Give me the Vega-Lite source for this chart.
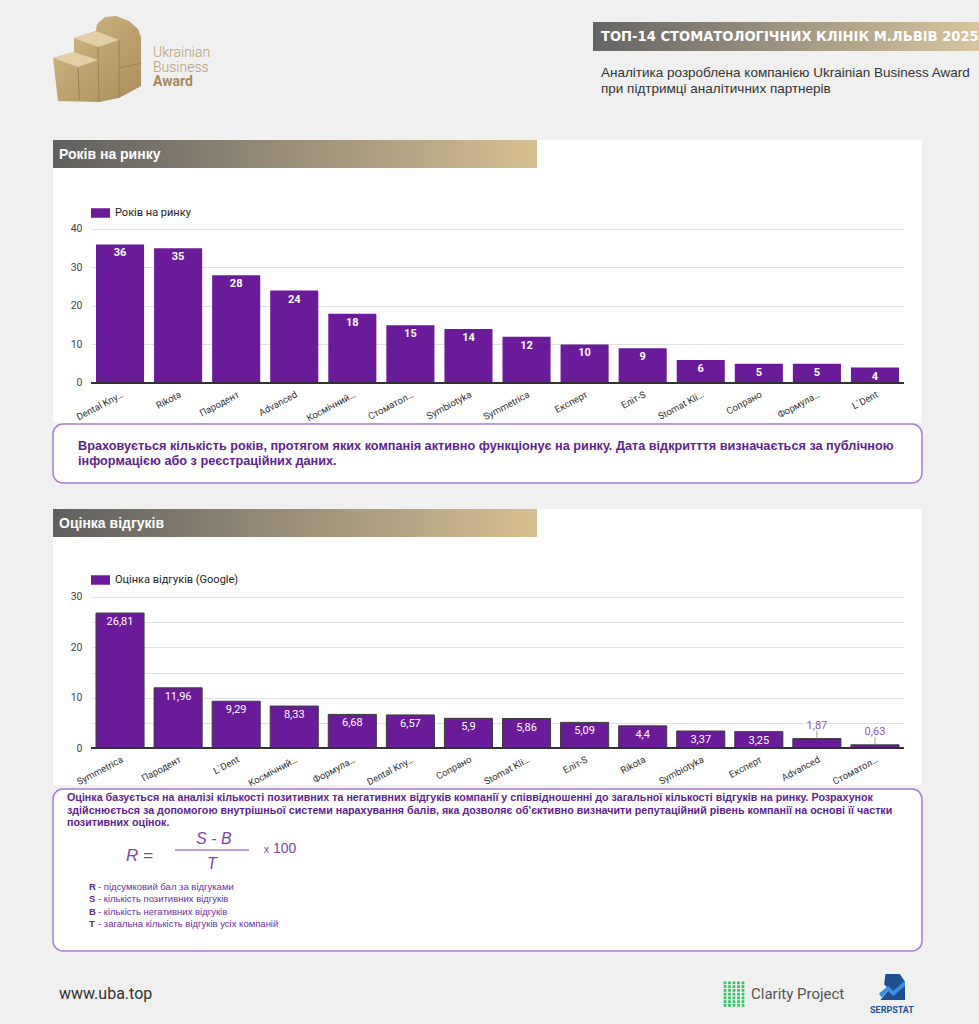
{
"$schema": "https://vega.github.io/schema/vega-lite/v6.json",
"background": "#f0f0f0",
"padding": {"left": 52, "top": 0, "right": 0, "bottom": 0},
"bounds": "full",
"spacing": 0,
"resolve": {"scale": {"color": "independent"}, "legend": {"color": "independent"}},
"config": {
  "view": {"stroke": null, "fill": "#f0f0f0"},
  "concat": {"spacing": 0},
  "font": "Roboto",
  "locale": {"number": {"decimal": ",", "thousands": " ", "grouping": [3], "currency": ["", ""]}}
},
"datasets": {
  "years": [
    {"clinic": "Dental Kny…", "years": 36},
    {"clinic": "Rikota", "years": 35},
    {"clinic": "Пародент", "years": 28},
    {"clinic": "Advanced", "years": 24},
    {"clinic": "Космічний…", "years": 18},
    {"clinic": "Стоматол…", "years": 15},
    {"clinic": "Symbiotyka", "years": 14},
    {"clinic": "Symmetrica", "years": 12},
    {"clinic": "Експерт", "years": 10},
    {"clinic": "Еліт-S", "years": 9},
    {"clinic": "Stomat Kli…", "years": 6},
    {"clinic": "Сопрано", "years": 5},
    {"clinic": "Формула…", "years": 5},
    {"clinic": "L`Dent", "years": 4}
  ],
  "reviews": [
    {"clinic": "Symmetrica", "score": 26.81},
    {"clinic": "Пародент", "score": 11.96},
    {"clinic": "L`Dent", "score": 9.29},
    {"clinic": "Космічний…", "score": 8.33},
    {"clinic": "Формула…", "score": 6.68},
    {"clinic": "Dental Kny…", "score": 6.57},
    {"clinic": "Сопрано", "score": 5.9},
    {"clinic": "Stomat Kli…", "score": 5.86},
    {"clinic": "Еліт-S", "score": 5.09},
    {"clinic": "Rikota", "score": 4.4},
    {"clinic": "Symbiotyka", "score": 3.37},
    {"clinic": "Експерт", "score": 3.25},
    {"clinic": "Advanced", "score": 1.87},
    {"clinic": "Стоматол…", "score": 0.63}
  ]
},
"vconcat": [
  {
    "hconcat": [
      {
        "width": 88, "height": 140,
        "data": {"values": [{"logo": "Ukrainian Business Award"}]},
        "layer": [
          {"mark": {"type": "point", "filled": true, "opacity": 1, "strokeWidth": 0, "size": 7744,
            "shape": "M-0.886,0.955L-1,-0.023L-0.523,-0.159L-0.523,-0.477L-0.023,-0.636L0,-0.795L0.182,-0.955L0.432,-0.977L0.727,-0.864L0.932,-0.682L1,-0.5L1,0.614L0.5,0.886L0.045,0.977Z",
            "fill": {"gradient": "linear", "x1": 0, "y1": 0, "x2": 1, "y2": 1, "stops": [{"offset": 0, "color": "#d4bb88"}, {"offset": 1, "color": "#a98c5a"}]}},
           "encoding": {
             "x": {"datum": 44, "type": "quantitative", "scale": {"domain": [0, 88], "nice": false}, "axis": null},
             "y": {"datum": 59, "type": "quantitative", "scale": {"domain": [0, 140], "nice": false, "reverse": true}, "axis": null}}},
          {"mark": {"type": "point", "filled": true, "opacity": 1, "strokeWidth": 0, "size": 7744, "color": "#e2cfa6",
            "shape": "M-1,-0.023L-0.523,-0.159L0.023,0.023L-0.432,0.182ZM-0.523,-0.477L-0.023,-0.636L0.5,-0.432L0.023,-0.273Z"},
           "encoding": {
             "x": {"datum": 44, "type": "quantitative"},
             "y": {"datum": 59, "type": "quantitative"}}},
          {"mark": {"type": "point", "filled": false, "opacity": 1, "strokeWidth": 1, "size": 7744, "color": "#9c8050",
            "shape": "M-0.432,0.182L-0.4,0.93M0.023,-0.273L0.045,0.96M0.5,-0.432L0.5,0.88M0.5,0.2L1,0.1"},
           "encoding": {
             "x": {"datum": 44, "type": "quantitative"},
             "y": {"datum": 59, "type": "quantitative"}}}
        ]
      },
      {
        "width": 450, "height": 140,
        "layer": [
          {"data": {"values": [{"t": "Ukrainian\nBusiness"}]},
           "mark": {"type": "text", "align": "left", "baseline": "top", "lineBreak": "\n", "lineHeight": 15, "font": "Roboto", "fontWeight": 300, "fontSize": 14, "color": "#b39c70"},
           "encoding": {
             "x": {"datum": 10, "type": "quantitative", "scale": {"domain": [0, 450], "nice": false}, "axis": null},
             "y": {"datum": 45.5, "type": "quantitative", "scale": {"domain": [0, 140], "nice": false, "reverse": true}, "axis": null},
             "text": {"field": "t"}}},
          {"data": {"values": [{"t": "Award"}]},
           "mark": {"type": "text", "align": "left", "baseline": "top", "font": "Roboto", "fontWeight": "bold", "fontSize": 14, "color": "#a4885a"},
           "encoding": {
             "x": {"datum": 10, "type": "quantitative"},
             "y": {"datum": 75, "type": "quantitative"},
             "text": {"field": "t"}}}
        ]
      },
      {
        "vconcat": [
          {"width": 389, "height": 22, "data": {"values": []}, "mark": "point"},
          {"width": 389, "height": 29,
           "view": {"fill": {"gradient": "linear", "x1": 0, "y1": 0, "x2": 1, "y2": 0, "stops": [{"offset": 0, "color": "#646464"}, {"offset": 1, "color": "#d9c69e"}]}},
           "data": {"values": [{"t": "ТОП-14 СТОМАТОЛОГІЧНИХ КЛІНІК М.ЛЬВІВ 2025"}]},
           "mark": {"type": "text", "align": "left", "baseline": "middle", "font": "Liberation Sans Narrow, DejaVu Sans Condensed, Roboto", "fontWeight": "bold", "fontSize": 14.6, "color": "#ffffff"},
           "encoding": {
             "x": {"datum": 8, "type": "quantitative", "scale": {"domain": [0, 389], "nice": false}, "axis": null},
             "y": {"datum": 15, "type": "quantitative", "scale": {"domain": [0, 29], "nice": false, "reverse": true}, "axis": null},
             "text": {"field": "t"}}},
          {"width": 389, "height": 89,
           "data": {"values": [{"t": "Аналітика розроблена компанією Ukrainian Business Award\nпри підтримці аналітичних партнерів"}]},
           "mark": {"type": "text", "align": "left", "baseline": "top", "lineBreak": "\n", "lineHeight": 15.5, "font": "Liberation Sans", "fontSize": 13.5, "color": "#333333"},
           "encoding": {
             "x": {"datum": 8, "type": "quantitative", "scale": {"domain": [0, 389], "nice": false}, "axis": null},
             "y": {"datum": 15, "type": "quantitative", "scale": {"domain": [0, 89], "nice": false, "reverse": true}, "axis": null},
             "text": {"field": "t"}}}
        ],
        "bounds": "flush", "spacing": 0
      }
    ],
    "bounds": "full", "spacing": 0
  },
  {
    "hconcat": [
      {"width": 484, "height": 28,
       "view": {"fill": {"gradient": "linear", "x1": 0, "y1": 0, "x2": 1, "y2": 0, "stops": [{"offset": 0, "color": "#5f5f5f"}, {"offset": 1, "color": "#d6bf91"}]}},
       "data": {"values": [{"t": "Років на ринку"}]},
       "mark": {"type": "text", "align": "left", "baseline": "middle", "font": "Liberation Sans", "fontWeight": "bold", "fontSize": 14, "color": "#ffffff"},
       "encoding": {
         "x": {"datum": 6, "type": "quantitative", "scale": {"domain": [0, 484], "nice": false}, "axis": null},
         "y": {"datum": 15, "type": "quantitative", "scale": {"domain": [0, 28], "nice": false, "reverse": true}, "axis": null},
         "text": {"field": "t"}}},
      {"width": 385, "height": 28, "view": {"fill": "#ffffff"}, "data": {"values": []}, "mark": "point"}
    ],
    "bounds": "flush", "spacing": 0
  },
  {
    "hconcat": [
      {"width": 38, "height": 255, "view": {"fill": "#ffffff"}, "data": {"values": []}, "mark": "point"},
      {
        "width": 813, "height": 255,
        "view": {"fill": "#ffffff"},
        "data": {"name": "years"},
        "layer": [
          {"mark": {"type": "bar"},
           "encoding": {
             "x": {"field": "clinic", "type": "nominal", "sort": null,
                   "scale": {"paddingInner": 0.172, "paddingOuter": 0.086},
                   "axis": {"orient": "bottom", "offset": -40, "title": null, "labelAngle": -28, "labelAlign": "right", "labelBaseline": "top", "labelPadding": 6, "ticks": false, "domain": false, "labelFont": "Roboto", "labelFontSize": 9.5, "labelColor": "#333333", "labelOverlap": false, "labelLimit": 0}},
             "y": {"field": "years", "type": "quantitative",
                   "scale": {"domain": [-10.39, 55.84], "nice": false, "zero": false},
                   "axis": {"title": null, "values": [0, 5, 10, 15, 20, 25, 30, 35, 40], "labelExpr": "datum.value % 10 === 0 ? datum.label : ''", "grid": true, "gridColor": "#e0e0e0", "domain": false, "ticks": false, "labelPadding": 9, "labelFont": "Roboto", "labelFontSize": 10.5, "labelColor": "#444444"}},
             "y2": {"datum": 0},
             "color": {"datum": "Років на ринку", "type": "nominal", "scale": {"range": ["#6a1b9a"]},
                       "legend": {"orient": "none", "legendX": 0, "legendY": 35.5, "title": null, "symbolType": "M-1,-0.5H1V0.5H-1Z", "symbolSize": 361, "symbolStrokeWidth": 0, "labelFont": "Roboto", "labelFontSize": 11, "labelColor": "#222222", "labelOffset": 5, "padding": 0}}
           }},
          {"mark": {"type": "rule", "color": "#333333", "strokeWidth": 1.2},
           "encoding": {"y": {"datum": 0, "type": "quantitative"}}},
          {"mark": {"type": "text", "baseline": "top", "dy": 3, "color": "#ffffff", "font": "Roboto", "fontWeight": "bold", "fontSize": 11},
           "encoding": {
             "x": {"field": "clinic", "type": "nominal", "sort": null},
             "y": {"field": "years", "type": "quantitative"},
             "text": {"field": "years", "type": "quantitative"}}}
        ]
      },
      {"width": 18, "height": 255, "view": {"fill": "#ffffff"}, "data": {"values": []}, "mark": "point"}
    ],
    "bounds": "flush", "spacing": 0,
    "resolve": {"scale": {"color": "independent"}, "legend": {"color": "independent"}}
  },
  {
    "width": 869, "height": 59,
    "view": {"fill": "#ffffff", "stroke": "#a77bd5", "strokeWidth": 1.5, "cornerRadius": 10},
    "data": {"values": [{"t": "Враховується кількість років, протягом яких компанія активно функціонує на ринку. Дата відкритття визначається за публічною\nінформацією або з реєстраційних даних."}]},
    "mark": {"type": "text", "align": "left", "baseline": "top", "lineBreak": "\n", "lineHeight": 15, "font": "Liberation Sans", "fontWeight": "bold", "fontSize": 12.7, "color": "#5e2390"},
    "encoding": {
      "x": {"datum": 25, "type": "quantitative", "scale": {"domain": [0, 869], "nice": false}, "axis": null},
      "y": {"datum": 16, "type": "quantitative", "scale": {"domain": [0, 59], "nice": false, "reverse": true}, "axis": null},
      "text": {"field": "t"}}
  },
  {"width": 869, "height": 25, "data": {"values": []}, "mark": "point"},
  {
    "hconcat": [
      {"width": 484, "height": 28,
       "view": {"fill": {"gradient": "linear", "x1": 0, "y1": 0, "x2": 1, "y2": 0, "stops": [{"offset": 0, "color": "#5f5f5f"}, {"offset": 1, "color": "#d6bf91"}]}},
       "data": {"values": [{"t": "Оцінка відгуків"}]},
       "mark": {"type": "text", "align": "left", "baseline": "middle", "font": "Liberation Sans", "fontWeight": "bold", "fontSize": 14, "color": "#ffffff"},
       "encoding": {
         "x": {"datum": 6, "type": "quantitative", "scale": {"domain": [0, 484], "nice": false}, "axis": null},
         "y": {"datum": 15, "type": "quantitative", "scale": {"domain": [0, 28], "nice": false, "reverse": true}, "axis": null},
         "text": {"field": "t"}}},
      {"width": 385, "height": 28, "view": {"fill": "#ffffff"}, "data": {"values": []}, "mark": "point"}
    ],
    "bounds": "flush", "spacing": 0
  },
  {
    "hconcat": [
      {"width": 38, "height": 248, "view": {"fill": "#ffffff"}, "data": {"values": []}, "mark": "point"},
      {
        "width": 813, "height": 248,
        "view": {"fill": "#ffffff"},
        "data": {"name": "reviews"},
        "layer": [
          {"mark": {"type": "bar", "stroke": "#3c3c3c", "strokeWidth": 1},
           "encoding": {
             "x": {"field": "clinic", "type": "nominal", "sort": null,
                   "scale": {"paddingInner": 0.172, "paddingOuter": 0.086},
                   "axis": {"orient": "bottom", "offset": -37, "title": null, "labelAngle": -28, "labelAlign": "right", "labelBaseline": "top", "labelPadding": 6, "ticks": false, "domain": false, "labelFont": "Roboto", "labelFontSize": 9.5, "labelColor": "#333333", "labelOverlap": false, "labelLimit": 0}},
             "y": {"field": "score", "type": "quantitative",
                   "scale": {"domain": [-7.35, 41.92], "nice": false, "zero": false},
                   "axis": {"title": null, "values": [0, 5, 10, 15, 20, 25, 30], "labelExpr": "datum.value % 10 === 0 ? datum.label : ''", "grid": true, "gridColor": "#e0e0e0", "domain": false, "ticks": false, "labelPadding": 9, "labelFont": "Roboto", "labelFontSize": 10.5, "labelColor": "#444444"}},
             "y2": {"datum": 0},
             "color": {"datum": "Оцінка відгуків (Google)", "type": "nominal", "scale": {"range": ["#6a1b9a"]},
                       "legend": {"orient": "none", "legendX": 0, "legendY": 33.5, "title": null, "symbolType": "M-1,-0.5H1V0.5H-1Z", "symbolSize": 361, "symbolStrokeWidth": 0, "labelFont": "Roboto", "labelFontSize": 11, "labelColor": "#222222", "labelOffset": 5, "padding": 0}}
           }},
          {"mark": {"type": "rule", "color": "#333333", "strokeWidth": 1.2},
           "encoding": {"y": {"datum": 0, "type": "quantitative"}}},
          {"transform": [{"filter": "datum.score >= 2"}],
           "mark": {"type": "text", "baseline": "top", "dy": 3, "color": "#ffffff", "font": "Roboto", "fontSize": 11},
           "encoding": {
             "x": {"field": "clinic", "type": "nominal", "sort": null},
             "y": {"field": "score", "type": "quantitative"},
             "text": {"field": "score", "type": "quantitative", "format": ".2~f"}}},
          {"transform": [{"filter": "datum.score < 2"}],
           "mark": {"type": "rule", "color": "#9e9e9e", "y2Offset": -8},
           "encoding": {
             "x": {"field": "clinic", "type": "nominal", "sort": null},
             "y": {"field": "score", "type": "quantitative"},
             "y2": {"field": "score"}}},
          {"transform": [{"filter": "datum.score < 2"}],
           "mark": {"type": "text", "baseline": "alphabetic", "dy": -10, "color": "#8e55c8", "font": "Roboto", "fontSize": 11},
           "encoding": {
             "x": {"field": "clinic", "type": "nominal", "sort": null},
             "y": {"field": "score", "type": "quantitative"},
             "text": {"field": "score", "type": "quantitative", "format": ".2~f"}}}
        ]
      },
      {"width": 18, "height": 248, "view": {"fill": "#ffffff"}, "data": {"values": []}, "mark": "point"}
    ],
    "bounds": "flush", "spacing": 0,
    "resolve": {"scale": {"color": "independent"}, "legend": {"color": "independent"}}
  },
  {
    "width": 869, "height": 162,
    "view": {"fill": "#ffffff", "stroke": "#a77bd5", "strokeWidth": 1.5, "cornerRadius": 10},
    "layer": [
      {"data": {"values": [{"t": "Оцінка базується на аналізі кількості позитивних та негативних відгуків компанії у співвідношенні до загальної кількості відгуків на ринку. Розрахунок\nздійснюється за допомогою внутрішньої системи нарахування балів, яка дозволяє об'єктивно визначити репутаційний рівень компанії на основі її частки\nпозитивних оцінок."}]},
       "mark": {"type": "text", "align": "left", "baseline": "top", "lineBreak": "\n", "lineHeight": 12.5, "font": "Liberation Sans", "fontWeight": "bold", "fontSize": 10.7, "color": "#5e2390"},
       "encoding": {
         "x": {"datum": 14, "type": "quantitative", "scale": {"domain": [0, 869], "nice": false}, "axis": null},
         "y": {"datum": 4, "type": "quantitative", "scale": {"domain": [0, 162], "nice": false, "reverse": true}, "axis": null},
         "text": {"field": "t"}}},
      {"data": {"values": [{"t": "R  ="}]},
       "mark": {"type": "text", "align": "left", "baseline": "middle", "font": "Liberation Sans", "fontStyle": "italic", "fontSize": 17, "color": "#7d45b5"},
       "encoding": {"x": {"datum": 73, "type": "quantitative"}, "y": {"datum": 67, "type": "quantitative"}, "text": {"field": "t"}}},
      {"data": {"values": [{"t": "S - B"}]},
       "mark": {"type": "text", "align": "left", "baseline": "middle", "font": "Liberation Sans", "fontStyle": "italic", "fontSize": 16, "color": "#7d45b5"},
       "encoding": {"x": {"datum": 143, "type": "quantitative"}, "y": {"datum": 50, "type": "quantitative"}, "text": {"field": "t"}}},
      {"data": {"values": [{"t": "T"}]},
       "mark": {"type": "text", "align": "left", "baseline": "middle", "font": "Liberation Sans", "fontStyle": "italic", "fontSize": 16, "color": "#7d45b5"},
       "encoding": {"x": {"datum": 154, "type": "quantitative"}, "y": {"datum": 75, "type": "quantitative"}, "text": {"field": "t"}}},
      {"data": {"values": [{"t": "fraction"}]},
       "mark": {"type": "rule", "color": "#7d45b5", "strokeWidth": 1},
       "encoding": {"x": {"datum": 122, "type": "quantitative"}, "x2": {"datum": 196}, "y": {"datum": 61, "type": "quantitative"}}},
      {"data": {"values": [{"t": "x"}]},
       "mark": {"type": "text", "align": "left", "baseline": "middle", "font": "Liberation Sans", "fontSize": 10, "color": "#7d45b5"},
       "encoding": {"x": {"datum": 211, "type": "quantitative"}, "y": {"datum": 61, "type": "quantitative"}, "text": {"field": "t"}}},
      {"data": {"values": [{"t": "100"}]},
       "mark": {"type": "text", "align": "left", "baseline": "middle", "font": "Liberation Sans", "fontSize": 14, "color": "#7d45b5"},
       "encoding": {"x": {"datum": 220, "type": "quantitative"}, "y": {"datum": 60, "type": "quantitative"}, "text": {"field": "t"}}},
      {"data": {"values": [{"t": "R\nS\nB\nT"}]},
       "mark": {"type": "text", "align": "left", "baseline": "top", "lineBreak": "\n", "lineHeight": 12.4, "font": "Liberation Sans", "fontWeight": "bold", "fontSize": 9.5, "color": "#5e2390"},
       "encoding": {"x": {"datum": 36, "type": "quantitative"}, "y": {"datum": 93, "type": "quantitative"}, "text": {"field": "t"}}},
      {"data": {"values": [{"t": "- підсумковий бал за відгуками\n- кількість позитивних відгуків\n-  кількість негативних відгуків\n- загальна кількість відгуків усіх компаній"}]},
       "mark": {"type": "text", "align": "left", "baseline": "top", "lineBreak": "\n", "lineHeight": 12.4, "font": "Liberation Sans", "fontSize": 9.5, "color": "#6b2fa3"},
       "encoding": {"x": {"datum": 45, "type": "quantitative"}, "y": {"datum": 93, "type": "quantitative"}, "text": {"field": "t"}}}
    ]
  },
  {
    "width": 927, "height": 76,
    "layer": [
      {"data": {"values": [{"t": "www.uba.top"}]},
       "mark": {"type": "text", "align": "left", "baseline": "middle", "font": "Roboto", "fontSize": 16, "color": "#333333"},
       "encoding": {
         "x": {"datum": 6, "type": "quantitative", "scale": {"domain": [0, 927], "nice": false}, "axis": null},
         "y": {"datum": 42, "type": "quantitative", "scale": {"domain": [0, 76], "nice": false, "reverse": true}, "axis": null},
         "text": {"field": "t"}}},
      {"data": {"values": [{"t": "Clarity Project"}]},
       "mark": {"type": "point", "filled": true, "opacity": 1, "strokeWidth": 0, "size": 625, "color": "#34c463",
         "shape": "M-.83,-1.01h.22v.22h-.22zM-.47,-1.01h.22v.22h-.22zM-.11,-1.01h.22v.22h-.22zM.25,-1.01h.22v.22h-.22zM.61,-1.01h.22v.22h-.22zM-.83,-.71h.22v.22h-.22zM-.47,-.71h.22v.22h-.22zM-.11,-.71h.22v.22h-.22zM.25,-.71h.22v.22h-.22zM.61,-.71h.22v.22h-.22zM-.83,-.41h.22v.22h-.22zM-.47,-.41h.22v.22h-.22zM-.11,-.41h.22v.22h-.22zM.25,-.41h.22v.22h-.22zM.61,-.41h.22v.22h-.22zM-.83,-.11h.22v.22h-.22zM-.47,-.11h.22v.22h-.22zM-.11,-.11h.22v.22h-.22zM.25,-.11h.22v.22h-.22zM.61,-.11h.22v.22h-.22zM-.83,.19h.22v.22h-.22zM-.47,.19h.22v.22h-.22zM-.11,.19h.22v.22h-.22zM.25,.19h.22v.22h-.22zM.61,.19h.22v.22h-.22zM-.83,.49h.22v.22h-.22zM-.47,.49h.22v.22h-.22zM-.11,.49h.22v.22h-.22zM.25,.49h.22v.22h-.22zM.61,.49h.22v.22h-.22zM-.83,.79h.22v.22h-.22zM-.47,.79h.22v.22h-.22zM-.11,.79h.22v.22h-.22zM.25,.79h.22v.22h-.22zM.61,.79h.22v.22h-.22z"},
       "encoding": {"x": {"datum": 681, "type": "quantitative"}, "y": {"datum": 42, "type": "quantitative"}}},
      {"data": {"values": [{"t": "Clarity Project"}]},
       "mark": {"type": "text", "align": "left", "baseline": "middle", "font": "Roboto", "fontSize": 15, "color": "#555555"},
       "encoding": {"x": {"datum": 698, "type": "quantitative"}, "y": {"datum": 42, "type": "quantitative"}, "text": {"field": "t"}}},
      {"data": {"values": [{"t": "SERPSTAT"}]},
       "mark": {"type": "point", "filled": true, "opacity": 1, "strokeWidth": 0, "size": 676, "color": "#1d4f91",
         "shape": "M-0.5,-1L0.6,-1L1,-0.4L1,1L-0.9,1L-0.2,0.2L-0.6,-0.2Z"},
       "encoding": {"x": {"datum": 839, "type": "quantitative"}, "y": {"datum": 35, "type": "quantitative"}}},
      {"data": {"values": [{"t": "SERPSTAT"}]},
       "mark": {"type": "point", "filled": true, "opacity": 1, "strokeWidth": 0, "size": 676, "color": "#3d8ee6",
         "shape": "M-1,0.5L-0.3,-0.1L0.1,0.3L1,-0.5L1,-0.1L0.1,0.7L-0.3,0.3L-0.8,0.8Z"},
       "encoding": {"x": {"datum": 839, "type": "quantitative"}, "y": {"datum": 35, "type": "quantitative"}}},
      {"data": {"values": [{"t": "SERPSTAT"}]},
       "mark": {"type": "text", "align": "center", "baseline": "middle", "font": "Roboto", "fontWeight": "bold", "fontSize": 9, "color": "#1d4f91"},
       "encoding": {"x": {"datum": 839, "type": "quantitative"}, "y": {"datum": 58, "type": "quantitative"}, "text": {"field": "t"}}}
    ]
  }
]
}
